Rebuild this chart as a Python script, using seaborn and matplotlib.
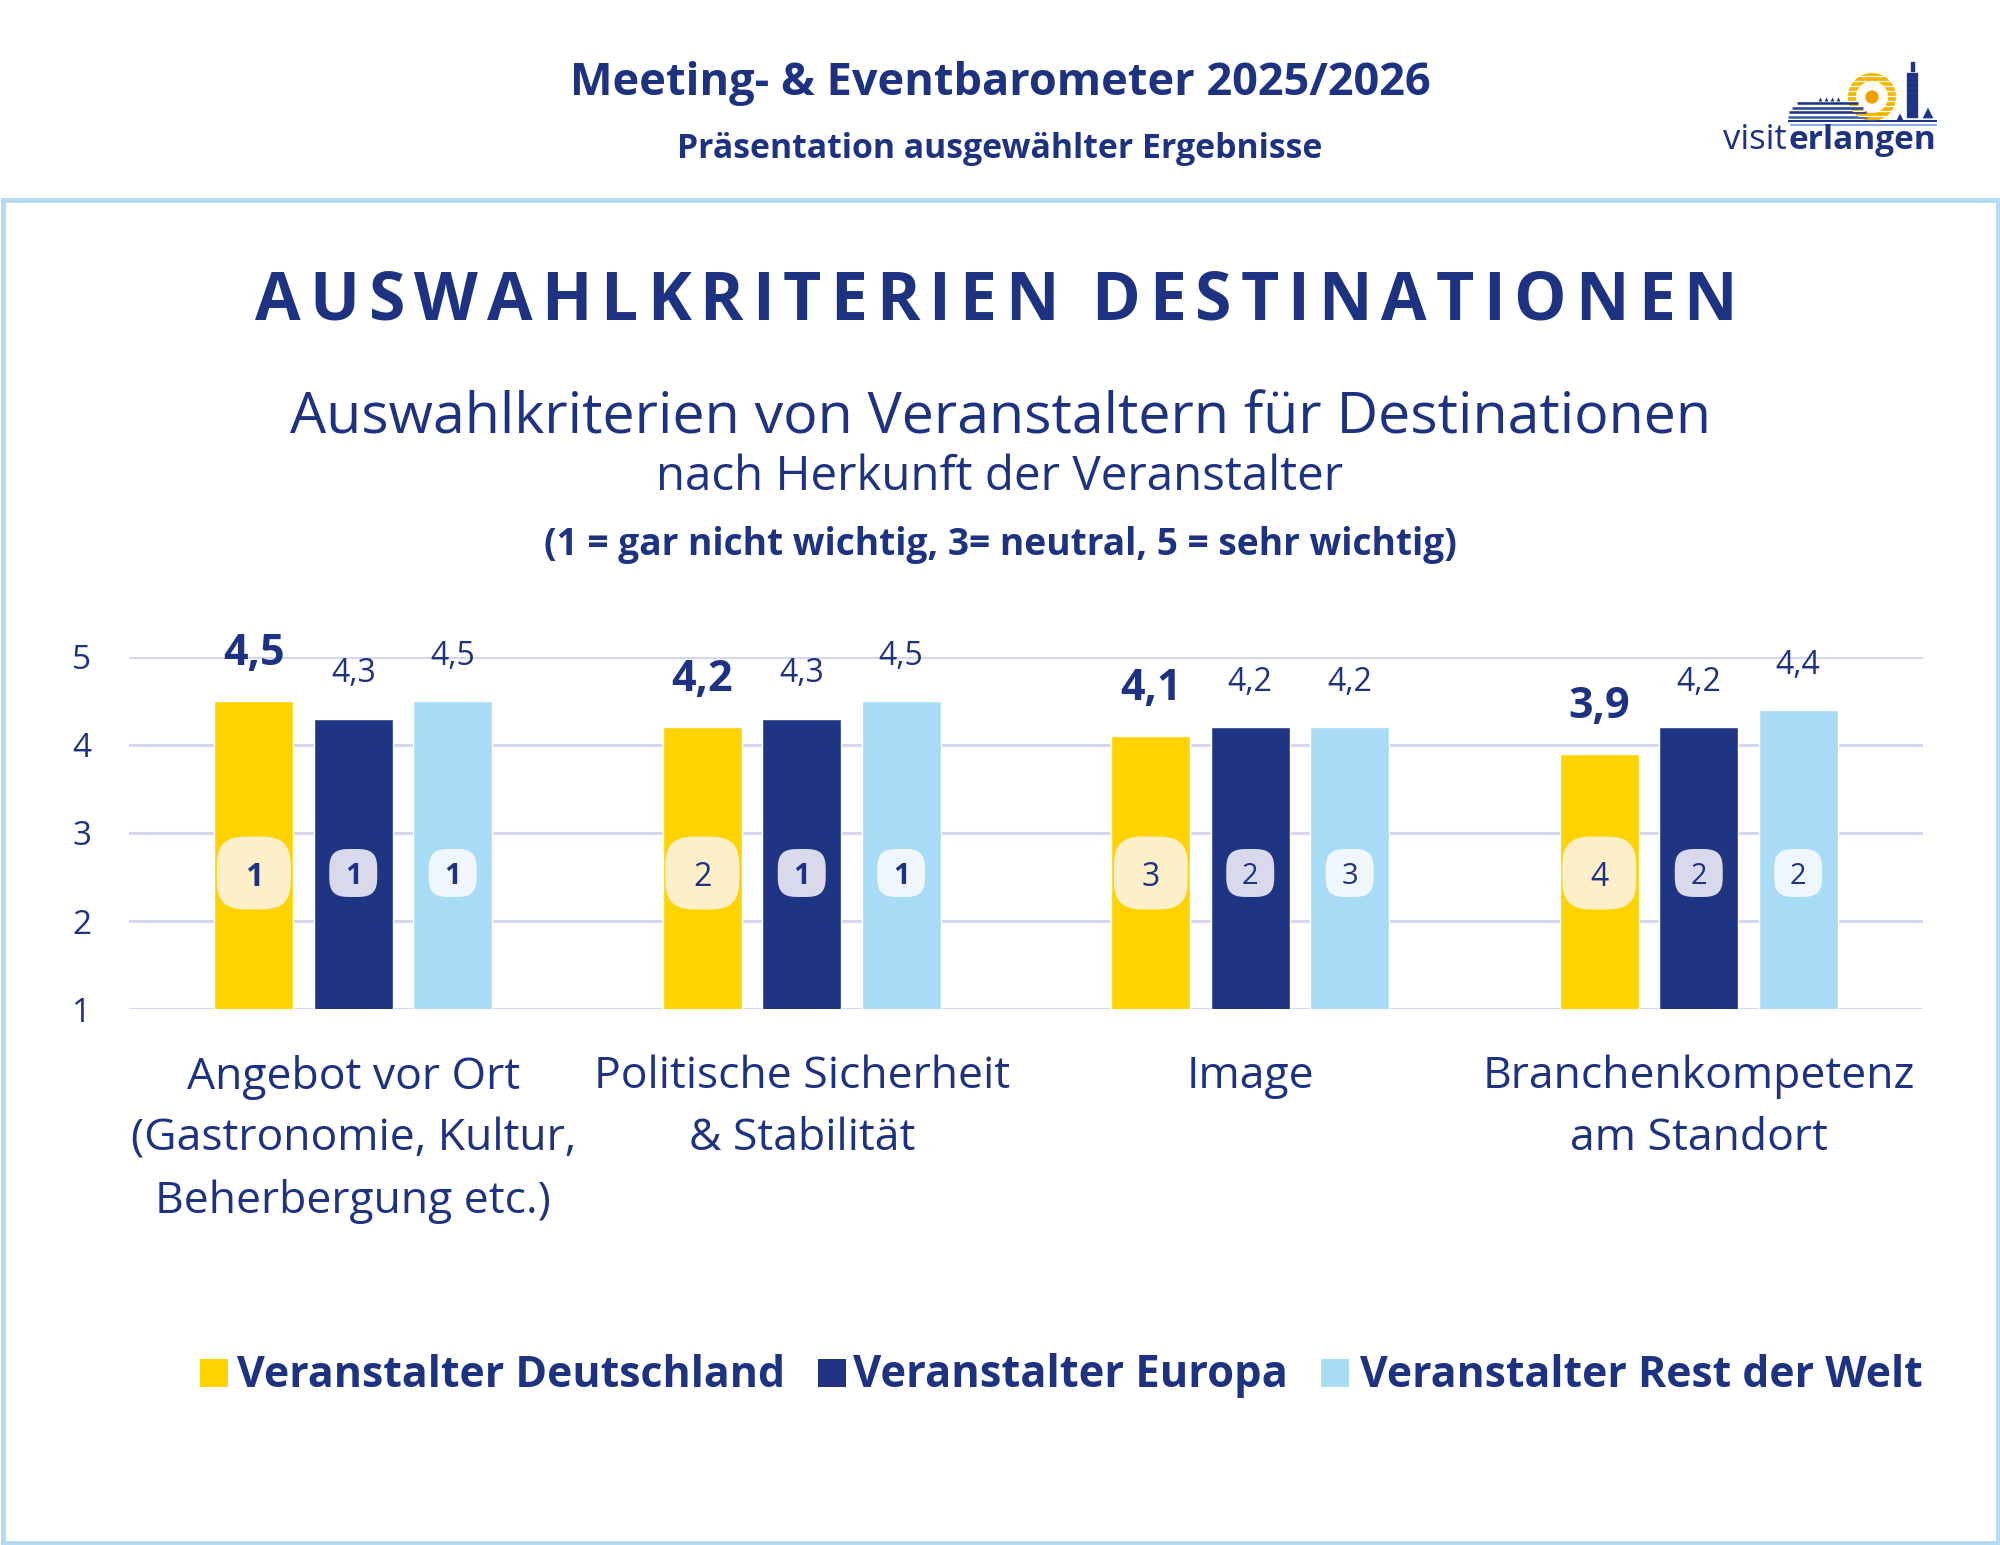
import numpy as np
import pandas as pd
import matplotlib
matplotlib.use("Agg")
import matplotlib.pyplot as plt
import seaborn as sns
from matplotlib.patches import Rectangle, Polygon, Circle, Wedge
from matplotlib.transforms import ScaledTranslation

# ---------------- data ----------------
categories = ["Angebot vor Ort\n(Gastronomie, Kultur,\nBeherbergung etc.)",
              "Politische Sicherheit\n& Stabilität",
              "Image",
              "Branchenkompetenz\nam Standort"]
groups = ["Veranstalter Deutschland", "Veranstalter Europa", "Veranstalter Rest der Welt"]
values_de = [4.5, 4.2, 4.1, 3.9]
values_eu = [4.3, 4.3, 4.2, 4.2]
values_rw = [4.5, 4.5, 4.2, 4.4]
ranks_de = [1, 2, 3, 4]
ranks_eu = [1, 1, 2, 2]
ranks_rw = [1, 1, 3, 2]
y_ticks = [1, 2, 3, 4, 5]

header_title = "Meeting- & Eventbarometer 2025/2026"
header_sub = "Präsentation ausgewählter Ergebnisse"
main_title = "AUSWAHLKRITERIEN DESTINATIONEN"
subtitle = "Auswahlkriterien von Veranstaltern für Destinationen"
subtitle2 = "nach Herkunft der Veranstalter"
scale_note = "(1 = gar nicht wichtig, 3= neutral, 5 = sehr wichtig)"

# ---------------- style ----------------
TEXT = "#1e3282"
palette = ["#ffd200", "#1f3583", "#a8dbf6"]
badge_colors = ["#fdf0c8", "#d8d9ec", "#eff6fd"]
GRID = "#d4d7ee"
BORDER = "#b5dbf5"

sns.set_theme(style="white")
plt.rcParams['font.family'] = ['Open Sans', 'DejaVu Sans']

W, H = 2000, 1545
fig = plt.figure(figsize=(W / 100, H / 100), dpi=100)
fig.patch.set_facecolor("white")
canvas = fig.add_axes([0, 0, 1, 1], zorder=0)
canvas.set_xlim(0, W)
canvas.set_ylim(H, 0)
canvas.axis("off")
renderer = fig.canvas.get_renderer()


def fit(x, y, s, width, size, ha="center", **kw):
    t = canvas.text(x, y, s, fontsize=size, ha=ha, va="baseline", color=TEXT, **kw)
    w = t.get_window_extent(renderer).width
    t.set_fontsize(size * width / w)
    return t


def spaced(xl, xr, y, s, size, **kw):
    em = size * 100 / 72
    widths = []
    for ch in s:
        if ch == " ":
            widths.append(None)
        else:
            t = canvas.text(0, 0, ch, fontsize=size, **kw)
            widths.append(t.get_window_extent(renderer).width)
            t.remove()
    space_w = 0.22 * em
    ink = sum(w for w in widths if w is not None) + space_w * widths.count(None)
    sp = (xr - xl - ink) / (len(s) - 1)
    x = xl
    for ch, w in zip(s, widths):
        if w is None:
            x += space_w + sp
            continue
        canvas.text(x, y, ch, fontsize=size, ha="left", va="baseline", color=TEXT, **kw)
        x += w + sp


# border panel
canvas.add_patch(Rectangle((2.5, 200), W - 5, H - 202.5, fill=False,
                           edgecolor=BORDER, lw=5 * 0.72))

# header
fit(1000, 95, header_title, 861, 30, fontweight="bold")
fit(1000, 158, header_sub, 646, 22, fontweight="bold")

# logo (simplified)
fit(1723, 149, "visit", 64, 24, ha="left")
fit(1789, 149, "erlangen", 148, 24, ha="left", fontweight="bold")
for yy, x0, x1, c, lw in [(103, 1797, 1858, "#1f3583", 2.6), (107.5, 1792, 1863, "#2a4a9a", 2.6),
                          (112, 1789, 1866, "#1f3583", 2.6), (116.5, 1788, 1867, "#3a62b0", 2.6),
                          (121, 1788, 1937, "#1f3583", 2.0), (125, 1790, 1937, "#6f9fd8", 1.6)]:
    canvas.plot([x0, x1], [yy, yy], color=c, lw=lw * 0.72, solid_capstyle="butt")
canvas.scatter([1820, 1826, 1832, 1838], [99] * 4, marker="^", s=8, color="#1f3583", lw=0)
ring = Wedge((1872, 97), 24, 0, 360, width=8, facecolor="#f6b400", edgecolor="none")
canvas.add_patch(ring)
for yy in np.arange(76, 122, 5):
    ln, = canvas.plot([1845, 1900], [yy, yy], color="white", lw=0.9)
    ln.set_clip_path(ring)
canvas.add_patch(Circle((1872, 97), 6, color="#f0a000"))
canvas.add_patch(Rectangle((1910.5, 62), 3, 9, color="#1f3583"))
for yy in np.arange(73, 118, 5):
    canvas.add_patch(Rectangle((1907, yy), 10, 3.5, color="#1f3583"))
canvas.scatter([1900, 1928], [117, 113], marker="^", s=[25, 60], color="#1f3583", lw=0)

# titles
spaced(255, 1737, 320, main_title, 47.5, fontweight="bold")
fit(1000, 433, subtitle, 1419, 40)
fit(1000, 490, subtitle2, 687, 30)
fit(1000, 555, scale_note, 916, 24, fontweight="bold")

# ---------------- chart ----------------
df = pd.DataFrame({
    "Kriterium": categories * 3,
    "Herkunft": [groups[0]] * 4 + [groups[1]] * 4 + [groups[2]] * 4,
    "Wert": values_de + values_eu + values_rw,
})

ax = fig.add_axes([129 / W, 1 - 1009 / H, (1923 - 129) / W, (1009 - 657) / H], zorder=1)
ax.set_facecolor("none")
sns.barplot(data=df, x="Kriterium", y="Wert", hue="Herkunft", order=categories,
            hue_order=groups, palette=palette, width=0.665, gap=0.206, saturation=1,
            errorbar=None, legend=False, ax=ax)
ax.set_ylim(1, 5)
ax.set_xlim(-0.5, 3.5)
ax.set_yticks(y_ticks)
ax.set_yticklabels([str(t) for t in y_ticks], fontsize=24, color=TEXT)
ax.yaxis.grid(True, color=GRID, lw=2.2)
ax.xaxis.grid(False)
ax.set_axisbelow(True)
for s in ax.spines.values():
    s.set_visible(False)
ax.set_xlabel("")
ax.set_ylabel("")
ax.tick_params(axis="both", length=0)
ax.tick_params(axis="y", pad=27)
ax.tick_params(axis="x", pad=33)

# category labels size fitted to "Politische Sicherheit"
tmp = canvas.text(0, 0, "Politische Sicherheit", fontsize=30)
cat_fs = 30 * 416 / tmp.get_window_extent(renderer).width
tmp.remove()
ax.set_xticks(range(len(categories)))
ax.set_xticklabels(categories, fontsize=cat_fs, color=TEXT, va="top", linespacing=1.52)

all_vals = [values_de, values_eu, values_rw]
all_ranks = [ranks_de, ranks_eu, ranks_rw]
badge_y = 1 + (1009 - 873) / 88.0


def squircle(w, h, n=3.4, k=160):
    t = np.linspace(0, 2 * np.pi, k)
    c, s = np.cos(t), np.sin(t)
    return np.column_stack([w / 2 * np.sign(c) * np.abs(c) ** (2 / n),
                            h / 2 * np.sign(s) * np.abs(s) ** (2 / n)])


for i, cont in enumerate(ax.containers):
    for j, bar in enumerate(cont):
        x = bar.get_x() + bar.get_width() / 2
        top = bar.get_height()
        lab = f"{all_vals[i][j]:.1f}".replace(".", ",")
        ax.annotate(lab, (x, top), xytext=(0, 26), textcoords="offset points",
                    ha="center", va="baseline", color=TEXT, annotation_clip=False,
                    fontsize=31 if i == 0 else 23,
                    fontweight="bold" if i == 0 else "normal")
        bw, bh = (0.74, 0.73) if i == 0 else (0.48, 0.48)
        tr = fig.dpi_scale_trans + ScaledTranslation(x, badge_y, ax.transData)
        ax.add_patch(Polygon(squircle(bw, bh), closed=True, transform=tr,
                             facecolor=badge_colors[i], edgecolor="none", clip_on=False, zorder=3))
        r = all_ranks[i][j]
        ax.text(x, badge_y, str(r), ha="center", va="center_baseline", color=TEXT,
                fontsize=23 if i == 0 else 21, fontweight="bold" if r == 1 else "normal", zorder=4)

# legend
leg_sq_x = [200, 818, 1321]
leg_tx_x = [237, 853, 1360]
leg_tx_w = [547, 435, 561]
for k in range(3):
    canvas.add_patch(Rectangle((leg_sq_x[k], 1359), 27.5, 28, color=palette[k], lw=0))
    fit(leg_tx_x[k], 1387, groups[k], leg_tx_w[k], 28, ha="left", fontweight="bold")

fig.savefig("out.png", dpi=100, facecolor="white")
